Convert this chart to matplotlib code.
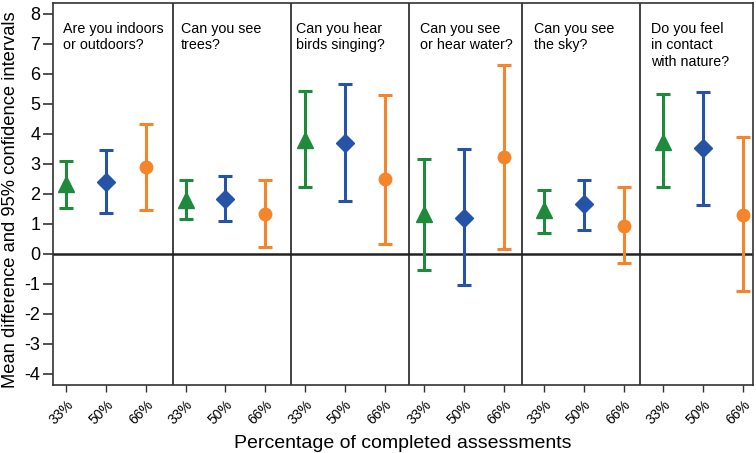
import matplotlib
matplotlib.use("Agg")
import matplotlib.pyplot as plt
import matplotlib.transforms as mtransforms
import numpy as np

plt.rcParams["font.family"] = ["Liberation Sans", "DejaVu Sans"]

# ---- data ------------------------------------------------------------------
questions = [
    "Are you indoors\nor outdoors?",
    "Can you see\ntrees?",
    "Can you hear\nbirds singing?",
    "Can you see\nor hear water?",
    "Can you see\nthe sky?",
    "Do you feel\nin contact\nwith nature?",
]
levels = ["33%", "50%", "66%"]

mean_33 = [2.33, 1.78, 3.80, 1.33, 1.47, 3.72]
low_33 = [1.52, 1.14, 2.22, -0.53, 0.70, 2.22]
high_33 = [3.08, 2.44, 5.42, 3.17, 2.11, 5.31]

mean_50 = [2.39, 1.81, 3.69, 1.19, 1.64, 3.52]
low_50 = [1.35, 1.08, 1.75, -1.03, 0.80, 1.63]
high_50 = [3.45, 2.59, 5.64, 3.50, 2.44, 5.39]

mean_66 = [2.89, 1.31, 2.48, 3.22, 0.92, 1.28]
low_66 = [1.47, 0.21, 0.33, 0.15, -0.30, -1.26]
high_66 = [4.33, 2.44, 5.28, 6.28, 2.22, 3.89]

# ---- style ------------------------------------------------------------------
series = [
    (mean_33, low_33, high_33, "#1f8a3c", "^", 11),
    (mean_50, low_50, high_50, "#2553a6", "D", 9),
    (mean_66, low_66, high_66, "#f5852a", "o", 9),
]
panel_edges = [2.69, 5.65, 8.61, 11.45, 14.41]
title_x = [-0.08, 2.88, 5.78, 8.88, 11.75, 14.68]

fig = plt.figure(figsize=(7.56, 4.53), dpi=100)
ax = fig.add_axes([0.070, 0.150, 0.926, 0.843])

n_q = len(questions)
for j, (m, lo, hi, col, mk, ms) in enumerate(series):
    x = np.arange(n_q) * 3 + j
    m = np.asarray(m)
    yerr = np.vstack([m - np.asarray(lo), np.asarray(hi) - m])
    ax.errorbar(x, m, yerr=yerr, fmt=mk, color=col, ecolor=col,
                markersize=ms, elinewidth=2.2, capsize=5, capthick=2.2,
                zorder=3)

ax.axhline(0, color="#222222", linewidth=1.8, zorder=2)
for xe in panel_edges:
    ax.axvline(xe, color="#333333", linewidth=1.3, zorder=1)

trans = mtransforms.blended_transform_factory(ax.transData, ax.transAxes)
for tx, q in zip(title_x, questions):
    ax.text(tx, 0.950, q, transform=trans, ha="left", va="top",
            fontsize=10.3, linespacing=1.2)

ax.set_xlim(-0.33, 17.25)
ax.set_ylim(-4.38, 8.35)
ax.set_yticks(range(-4, 9))
ax.set_yticklabels([str(v) for v in range(-4, 9)], fontsize=13)
ax.set_xticks(np.arange(n_q * 3))
ax.set_xticklabels(levels * n_q, rotation=45, ha="right",
                   rotation_mode="anchor", fontsize=10)
ax.tick_params(axis="y", length=7, width=1.2, color="#333333", pad=2)
ax.tick_params(axis="x", length=5, width=1.0, color="#333333", pad=4)

for s in ax.spines.values():
    s.set_color("#333333")
    s.set_linewidth(1.2)

ax.set_ylabel("Mean difference and 95% confidence intervals", fontsize=13.2)
ax.yaxis.set_label_coords(-0.048, 0.485)
ax.set_xlabel("Percentage of completed assessments", fontsize=14,
              labelpad=6)

fig.savefig("out.png", dpi=100)
